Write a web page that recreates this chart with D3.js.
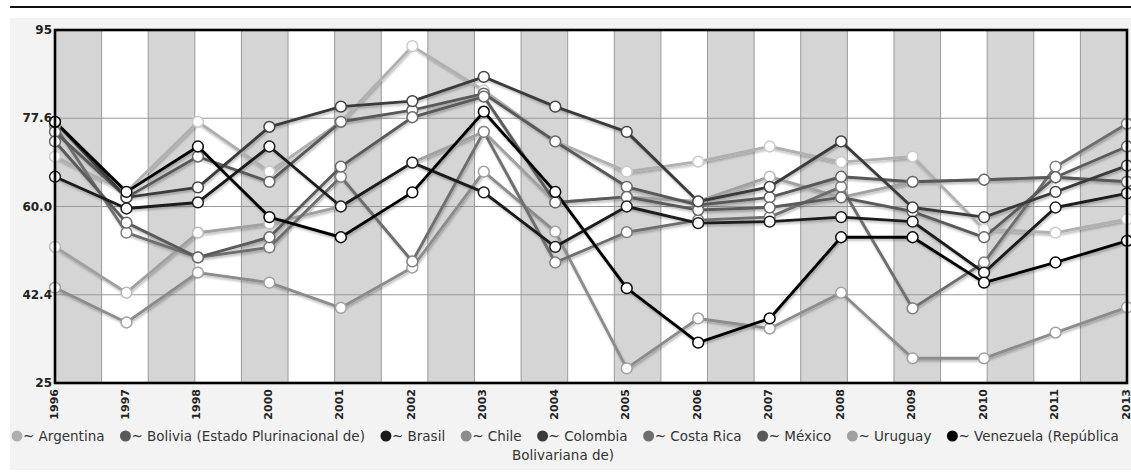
<!DOCTYPE html>
<html><head><meta charset="utf-8">
<script src="https://cdn.jsdelivr.net/npm/d3@7"></script>
<style>
body{margin:0;background:#fff;}
svg{display:block;font-family:"DejaVu Sans",Verdana,sans-serif;}
</style></head>
<body>
<svg id="c" width="1131" height="475"></svg>
<script>
const years = ["1996","1997","1998","2000","2001","2002","2003","2004","2005","2006","2007","2008","2009","2010","2011","2013"];
const yTickValues = [95, 77.5, 60, 42.5, 25];
const yTickLabels = ["95", "77.6", "60.0", "42.4", "25"];
const seriesNames = ["Argentina","Bolivia (Estado Plurinacional de)","Brasil","Chile","Colombia","Costa Rica","México","Uruguay","Venezuela (República Bolivariana de)"];
const seriesColors = ["#b0b0b0","#5a5a5a","#1a1a1a","#8c8c8c","#3a3a3a","#6e6e6e","#595959","#a0a0a0","#050505"];
const argentina = [69.9, 62.9, 76.8, 66.9, 76.8, 91.8, 83.0, 72.9, 66.9, 68.9, 71.9, 68.8, 69.9, 55.5, 54.8, 57.5];
const bolivia   = [72.9, 56.8, 49.9, 53.9, 67.9, 77.7, 81.8, 60.8, 61.9, 59.3, 59.8, 61.8, 59.0, 53.9, 65.8, 71.9];
const brasil    = [65.9, 59.6, 60.8, 71.9, 60.0, 68.7, 62.8, 52.0, 60.0, 56.7, 57.0, 57.9, 57.0, 46.9, 59.8, 62.6];
const chile     = [43.9, 37.0, 46.9, 44.9, 39.9, 47.9, 66.9, 55.0, 27.9, 37.8, 35.8, 42.9, 29.9, 29.9, 35.0, 40.0];
const colombia  = [76.8, 61.8, 63.8, 75.8, 79.8, 80.9, 85.7, 79.8, 74.8, 61.0, 63.9, 72.9, 59.8, 57.9, 62.9, 68.1];
const costaRica = [76.0, 54.8, 49.9, 51.9, 65.9, 49.1, 74.8, 48.9, 54.9, 57.3, 57.9, 63.9, 39.8, 48.9, 67.9, 76.4];
const mexico    = [74.8, 61.8, 69.9, 64.9, 76.8, 79.1, 82.4, 72.9, 63.9, 60.3, 61.8, 65.9, 64.9, 65.3, 65.8, 64.9];
const uruguay   = [52.0, 42.9, 54.8, 56.6, 60.0, 68.7, 74.8, 60.8, 61.9, 61.0, 65.9, 61.8, 64.9, 65.3, 65.8, 64.9];
const venezuela = [76.8, 62.9, 71.9, 57.9, 53.9, 62.8, 78.8, 62.9, 43.8, 33.0, 37.8, 53.9, 53.9, 44.9, 48.9, 53.2];
const seriesValues = [argentina, bolivia, brasil, chile, colombia, costaRica, mexico, uruguay, venezuela];
const stripeCount = 23;
const drawOrder = [0, 7, 3, 5, 6, 1, 4, 2, 8];

const svg = d3.select("#c");
const L = 55, R = 1127, T = 30, B = 383;
const x = d3.scalePoint().domain(years).range([L, R]);
const y = d3.scaleLinear().domain([25, 95]).range([B, T]);
const sx = d3.scaleLinear().domain([0, stripeCount]).range([L, R]);

const defs = svg.append("defs");
const f = defs.append("filter").attr("id","sh").attr("x","-5%").attr("y","-5%").attr("width","110%").attr("height","120%");
f.append("feDropShadow").attr("dx",1).attr("dy",2).attr("stdDeviation",1.2).attr("flood-color","#000").attr("flood-opacity",0.25);

// top rule and panel
svg.append("rect").attr("x",10).attr("y",18).attr("width",1121).attr("height",452).attr("fill","#f3f3f3");
svg.append("line").attr("x1",10).attr("x2",1131).attr("y1",7).attr("y2",7).attr("stroke","#111").attr("stroke-width",1.8);

// stripes
svg.append("g").selectAll("rect").data(d3.range(stripeCount)).join("rect")
  .attr("x", d => sx(d)).attr("y", T).attr("width", d => sx(d+1)-sx(d)).attr("height", B-T)
  .attr("fill", d => d % 2 === 0 ? "#d5d5d5" : "#ffffff");
svg.append("g").selectAll("line").data(d3.range(1, stripeCount)).join("line")
  .attr("x1", d => sx(d)).attr("x2", d => sx(d)).attr("y1", T).attr("y2", B)
  .attr("stroke", "#9a9a9a").attr("stroke-width", 1);
svg.append("g").selectAll("line").data(yTickValues.slice(1, -1)).join("line")
  .attr("x1", L).attr("x2", R).attr("y1", d => y(d)).attr("y2", d => y(d))
  .attr("stroke", "#999").attr("stroke-width", 1.2);

// lines
const line = d3.line().x((d,i) => x(years[i])).y(d => y(d));
const gl = svg.append("g").attr("filter","url(#sh)");
drawOrder.forEach(si => {
  gl.append("path").datum(seriesValues[si]).attr("d", line)
    .attr("fill","none").attr("stroke", seriesColors[si]).attr("stroke-width", 2.9)
    .attr("stroke-linejoin","round");
});
drawOrder.forEach(si => {
  svg.append("g").selectAll("circle").data(seriesValues[si]).join("circle")
    .attr("cx", (d,i) => x(years[i])).attr("cy", d => y(d)).attr("r", 5.4)
    .attr("fill","#fff").attr("stroke", d3.color(seriesColors[si]).brighter(0.4)).attr("stroke-width", 1.5);
});

// border
svg.append("rect").attr("x",L).attr("y",T).attr("width",R-L).attr("height",B-T)
  .attr("fill","none").attr("stroke","#000").attr("stroke-width",2.6);

// y labels
svg.append("g").selectAll("text").data(yTickValues).join("text")
  .attr("x", L-3).attr("y", d => y(d)+4).attr("text-anchor","end")
  .attr("font-size",12).attr("font-weight","bold").attr("fill","#222")
  .text((d,i) => yTickLabels[i]);

// x labels
svg.append("g").selectAll("text").data(years).join("text")
  .attr("transform", d => `translate(${x(d)+2.5},389) rotate(-90)`)
  .attr("text-anchor","end").attr("font-size",11).attr("font-weight","bold").attr("fill","#222")
  .text(d => d);

// legend
const lg = svg.append("g").attr("font-size",13.5).attr("fill","#333");
let cx = 17;
const ly = 441;
seriesNames.forEach((n, i) => {
  lg.append("circle").attr("cx", cx).attr("cy", ly-5).attr("r", 5.5).attr("fill", seriesColors[i]);
  let label = "~ " + n;
  let second = null;
  if (i === seriesNames.length - 1) { label = "~ Venezuela (República"; second = "Bolivariana de)"; }
  const t = lg.append("text").attr("x", cx+6).attr("y", ly).text(label);
  const w = t.node().getComputedTextLength();
  if (second) lg.append("text").attr("x", 512).attr("y", ly+19).text(second);
  cx = cx + 6 + w + 21;
});
</script>
</body></html>
